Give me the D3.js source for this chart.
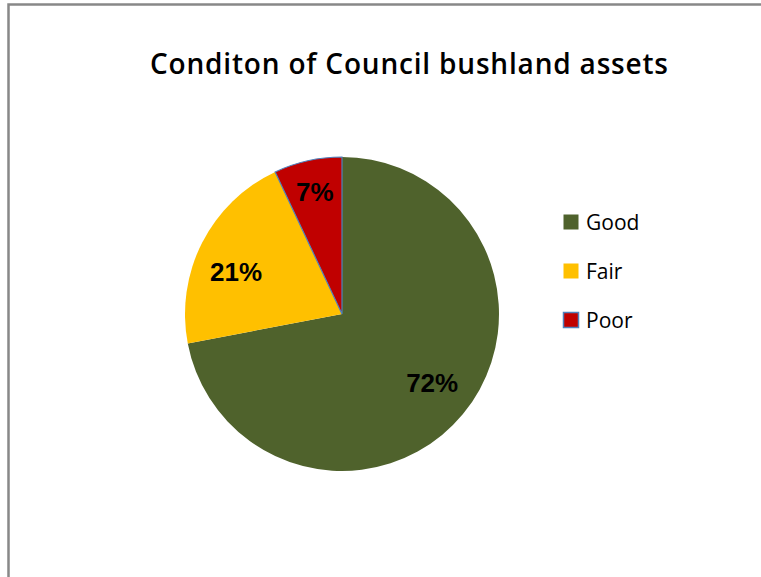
<!DOCTYPE html>
<html>
<head>
<meta charset="utf-8">
<script src="https://cdn.jsdelivr.net/npm/d3@7"></script>
<style>
  html, body { margin: 0; padding: 0; background: #fff; }
  svg { display: block; }
</style>
</head>
<body>
<svg id="chart" width="761" height="577"></svg>
<script>
// Bushland asset condition shares (percent)
const categories = ["Good", "Fair", "Poor"];
const values = [72, 21, 7];
const colors = ["#4f622c", "#ffc000", "#c00000"];
const strokes = [null, null, "#4f81bd"];
const title = "Conditon of Council bushland assets";

const svg = d3.select("#chart");
const W = 761, H = 577;

// Chart frame (left and top edges visible)
svg.append("path")
  .attr("d", `M8.5,${H} L8.5,4.5 L${W},4.5`)
  .attr("fill", "none")
  .attr("stroke", "#888")
  .attr("stroke-width", 2.5);

svg.append("text")
  .attr("x", 409)
  .attr("y", 74)
  .attr("text-anchor", "middle")
  .attr("font-family", "'Open Sans', 'Liberation Sans', sans-serif")
  .attr("font-weight", 600)
  .attr("font-size", 28)
  .attr("textLength", 518)
  .attr("lengthAdjust", "spacing")
  .attr("fill", "#000")
  .text(title);

const cx = 342, cy = 314, r = 157;
const data = categories.map((c, i) => ({ name: c, value: values[i], color: colors[i], stroke: strokes[i] }));

const pie = d3.pie().sort(null).value(d => d.value);
const arc = d3.arc().innerRadius(0).outerRadius(r);

const g = svg.append("g").attr("transform", `translate(${cx},${cy})`);
const arcs = pie(data);

g.selectAll("path.slice")
  .data(arcs)
  .join("path")
  .attr("class", "slice")
  .attr("d", arc)
  .attr("fill", d => d.data.color)
  .attr("stroke", d => d.data.stroke || "none")
  .attr("stroke-width", 1.2);

// Label placement per slice: distance (fraction of radius) and angular nudge (degrees)
const labelRadius = [0.72, 0.726, 0.796];
const labelNudge = [-2.5, -5.4, 0];
g.selectAll("text.pct")
  .data(arcs)
  .join("text")
  .attr("class", "pct")
  .attr("transform", (d, i) => {
    const a = (d.startAngle + d.endAngle) / 2 + labelNudge[i] * Math.PI / 180;
    const rr = r * labelRadius[i];
    return `translate(${Math.sin(a) * rr},${-Math.cos(a) * rr})`;
  })
  .attr("text-anchor", "middle")
  .attr("dy", "0.36em")
  .attr("font-family", "'Liberation Sans', Arial, sans-serif")
  .attr("font-weight", "bold")
  .attr("font-size", 26)
  .attr("fill", "#000")
  .text(d => d.data.value + "%");

// Legend
const legendY = d3.scalePoint().domain(categories).range([222, 320]);
const items = svg.append("g").selectAll("g.item")
  .data(data)
  .join("g")
  .attr("class", "item")
  .attr("transform", d => `translate(563,${legendY(d.name)})`);

items.append("rect")
  .attr("x", 0.5)
  .attr("y", -7.5)
  .attr("width", 15)
  .attr("height", 15)
  .attr("fill", d => d.color)
  .attr("stroke", d => d.stroke || "none")
  .attr("stroke-width", 1.5);

items.append("text")
  .attr("x", 23)
  .attr("y", 0)
  .attr("dy", "0.36em")
  .attr("font-family", "'Open Sans', 'Liberation Sans', sans-serif")
  .attr("font-size", 21)
  .attr("fill", "#000")
  .text(d => d.name);
</script>
</body>
</html>
